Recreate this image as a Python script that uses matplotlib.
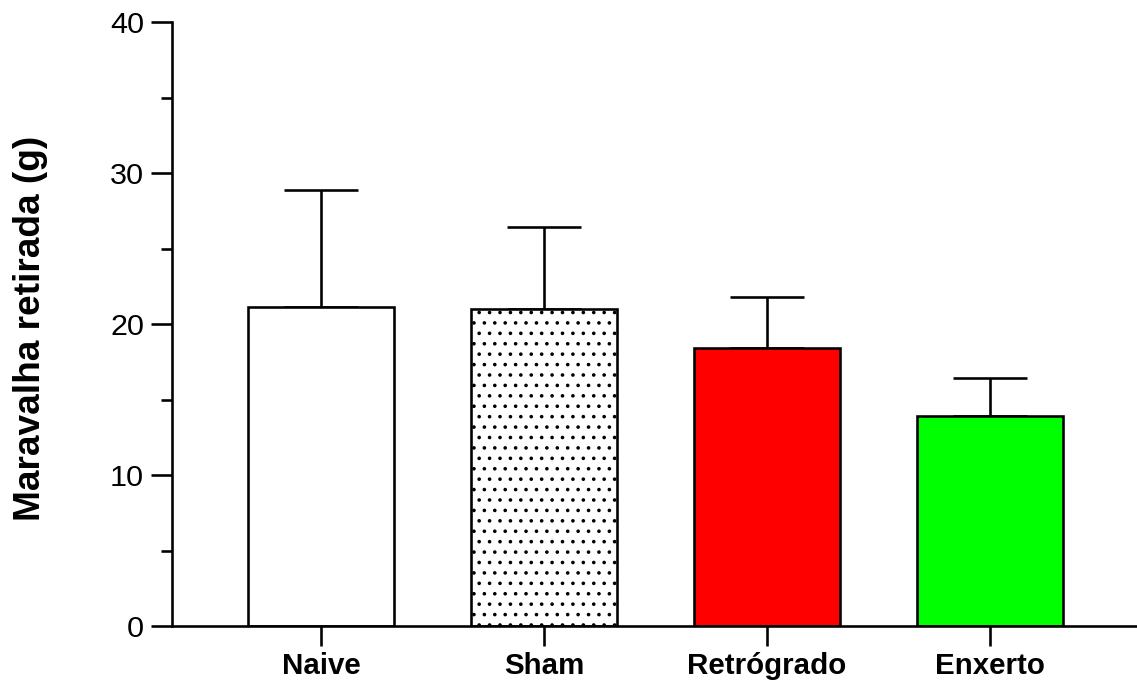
import matplotlib
import matplotlib.pyplot as plt
import numpy as np
from matplotlib.ticker import MultipleLocator

matplotlib.use('Agg')

groups = ['Naive', 'Sham', 'Retrógrado', 'Enxerto']
means = [21.1, 21.0, 18.4, 13.9]
sd = [7.8, 5.4, 3.4, 2.5]
colors = ['white', 'white', '#ff0000', '#00ff00']
hatches = ['', '..', '', '']

DPI = 125
W, H = 1137, 686


def px(p):
    # pixels -> points at this dpi
    return p * 72 / DPI


plt.rcParams['font.family'] = ['Liberation Sans', 'DejaVu Sans']
plt.rcParams['hatch.linewidth'] = px(1.5)

fig = plt.figure(figsize=(W / DPI, H / DPI), dpi=DPI)
ax = fig.add_axes([172 / W, 1 - 626 / H, (1137 - 172) / W, (626 - 22) / H])

x = np.arange(len(groups))
lw = px(2.6)
bars = ax.bar(x, means, width=0.655, color=colors, edgecolor='black',
              linewidth=lw, zorder=2)
for b, h in zip(bars, hatches):
    b.set_hatch(h)

ax.errorbar(x, means, yerr=[np.zeros(len(sd)), sd], fmt='none', ecolor='black',
            elinewidth=lw, capsize=px(37), capthick=lw, zorder=1)

ax.set_xlim(-0.668, 3.66)
ax.set_ylim(0, 40)
ax.yaxis.set_major_locator(MultipleLocator(10))
ax.yaxis.set_minor_locator(MultipleLocator(5))
ax.set_xticks(x)
ax.set_xticklabels(groups, fontsize=px(29.5), fontweight='bold')

for s in ['top', 'right']:
    ax.spines[s].set_visible(False)
for s in ['left', 'bottom']:
    ax.spines[s].set_linewidth(lw)

ax.tick_params(axis='y', which='major', length=px(21), width=lw,
               labelsize=px(30.5), pad=px(7))
ax.tick_params(axis='y', which='minor', length=px(11), width=lw)
ax.tick_params(axis='x', which='major', length=px(20), width=lw, pad=px(6))

ax.set_ylabel('Maravalha retirada (g)', fontsize=px(37), fontweight='bold')
ax.yaxis.set_label_coords(-0.128, 0.493)

fig.savefig('out.png', dpi=DPI)
